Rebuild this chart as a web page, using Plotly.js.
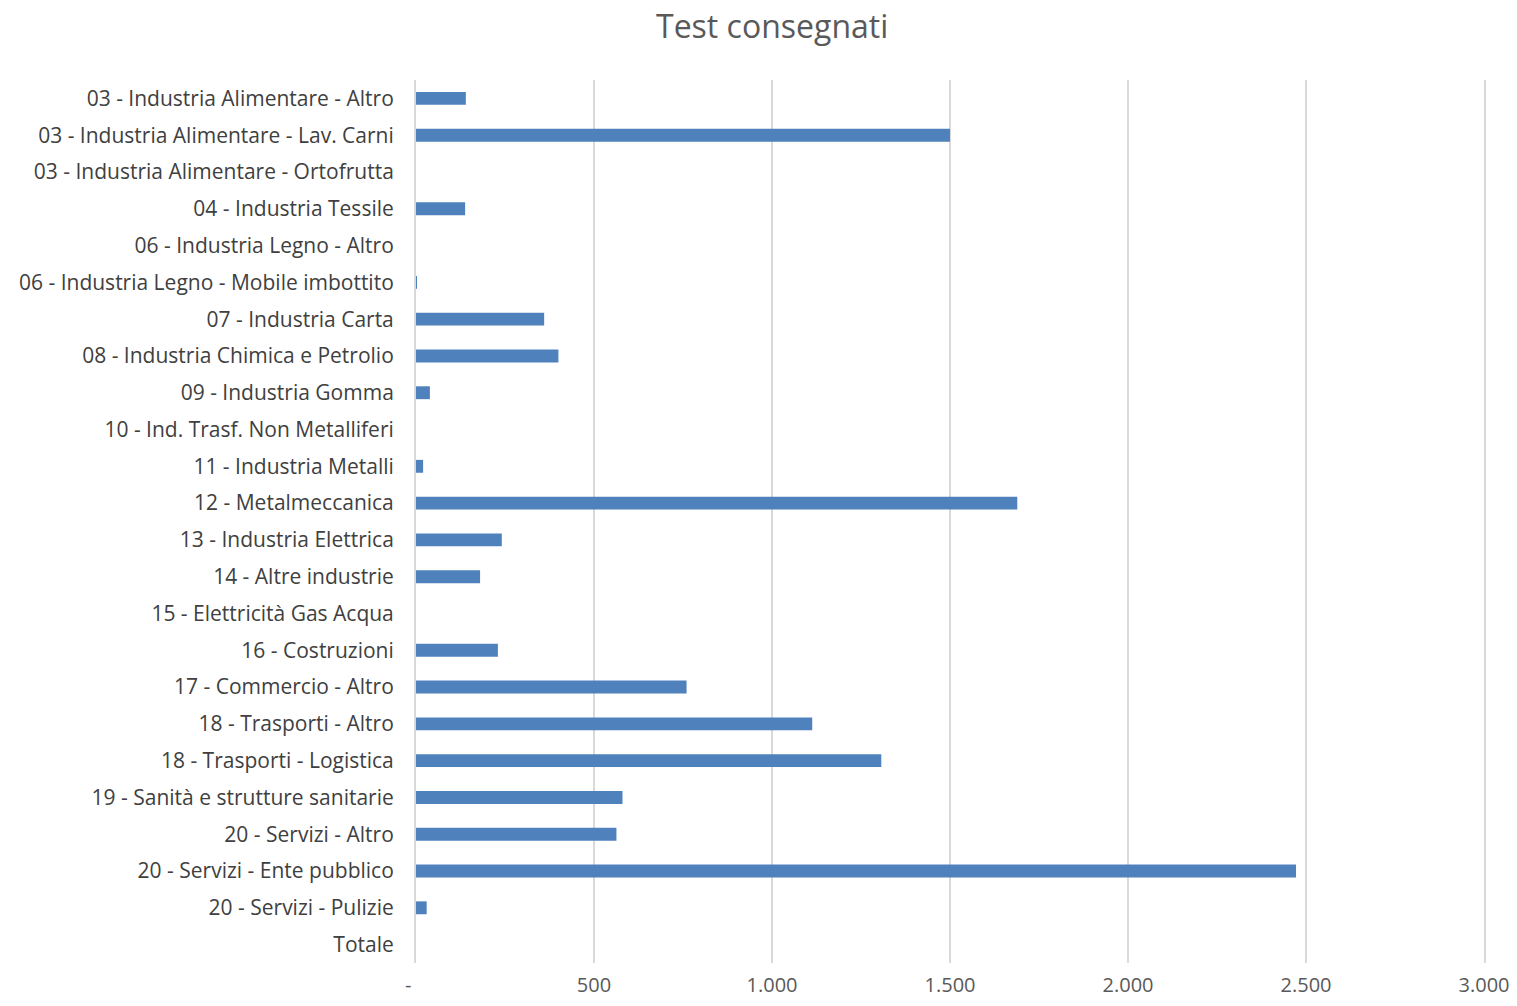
<!DOCTYPE html>
<html>
<head>
<meta charset="utf-8">
<script src="https://cdn.plot.ly/plotly-3.0.1.min.js"></script>
<style>html,body{margin:0;padding:0;background:#fff;}#chart{width:1517px;height:1006px;}</style>
</head>
<body>
<div id="chart"></div>
<script>
const categories = [
  "03 - Industria Alimentare - Altro",
  "03 - Industria Alimentare - Lav. Carni",
  "03 - Industria Alimentare - Ortofrutta",
  "04 - Industria Tessile",
  "06 - Industria Legno - Altro",
  "06 - Industria Legno - Mobile imbottito",
  "07 - Industria Carta",
  "08 - Industria Chimica e Petrolio",
  "09 - Industria Gomma",
  "10 - Ind. Trasf. Non Metalliferi",
  "11 - Industria Metalli",
  "12 - Metalmeccanica",
  "13 - Industria Elettrica",
  "14 - Altre industrie",
  "15 - Elettricità Gas Acqua",
  "16 - Costruzioni",
  "17 - Commercio - Altro",
  "18 - Trasporti - Altro",
  "18 - Trasporti - Logistica",
  "19 - Sanità e strutture sanitarie",
  "20 - Servizi - Altro",
  "20 - Servizi - Ente pubblico",
  "20 - Servizi - Pulizie",
  "Totale"
];
const testConsegnati = [140, 1500, 0, 138, 0, 1, 360, 400, 39, 0, 20, 1689, 241, 180, 0, 230, 760, 1113, 1307, 580, 563, 2472, 30, 0];
const xTickVals = [0, 500, 1000, 1500, 2000, 2500, 3000];
const xTickText = ["-\u00a0\u00a0\u00a0", "500", "1.000", "1.500", "2.000", "2.500", "3.000"];

const fontFam = "Open Sans, Noto Sans, sans-serif";
const trace = {
  type: 'bar',
  orientation: 'h',
  y: categories,
  x: testConsegnati,
  marker: {color: '#4f81bd', line: {width: 0}},
  hoverinfo: 'x+y'
};
const layout = {
  width: 1517, height: 1006,
  paper_bgcolor: '#fff', plot_bgcolor: '#fff',
  margin: {l: 416, r: 33, t: 80, b: 43},
  showlegend: false,
  bargap: 0.65,
  title: {text: 'Test consegnati', x: 0.509, xanchor: 'center', y: 0.973, yanchor: 'middle',
          font: {family: fontFam, size: 32, color: '#595959'}},
  xaxis: {
    range: [0, 3000], tickvals: xTickVals, ticktext: xTickText,
    showgrid: true, gridcolor: '#d9d9d9', gridwidth: 2,
    zeroline: false, showline: false,
    ticks: '', ticklabelstandoff: 8,
    tickfont: {family: fontFam, size: 20, color: '#595959'},
    fixedrange: true
  },
  yaxis: {
    autorange: 'reversed', type: 'category',
    showgrid: false, zeroline: false,
    showline: true, mirror: true, linecolor: '#d9d9d9', linewidth: 2,
    ticks: '', ticklabelstandoff: 16,
    tickfont: {family: fontFam, size: 21, color: '#404040'},
    fixedrange: true
  }
};
Plotly.newPlot('chart', [trace], layout, {displayModeBar: false, responsive: false});
</script>
</body>
</html>
